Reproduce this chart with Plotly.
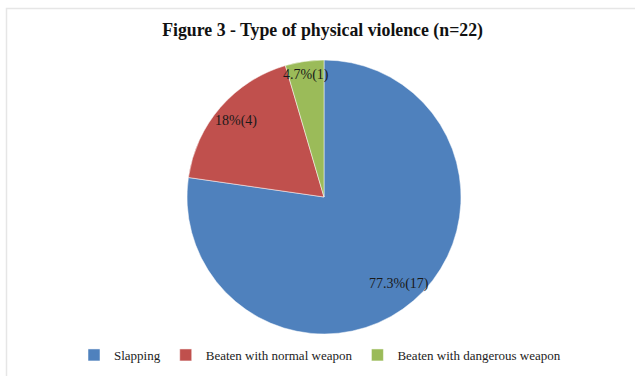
import math
import plotly.graph_objects as go

categories = ["Slapping", "Beaten with normal weapon", "Beaten with dangerous weapon"]
counts = [17, 4, 1]
label_texts = ["77.3%(17)", "18%(4)", "4.7%(1)"]
colors = ["#4F81BD", "#C0504D", "#9BBB59"]
label_radius = [0.84, 0.85, 0.9]

W, H = 635, 376
MT, MB = 60, 42
PH = H - MT - MB
PIE_L, PIE_R = 187, 461
CX = (PIE_L + PIE_R) / 2
R = (PIE_R - PIE_L) / 2

fig = go.Figure(go.Pie(
    labels=categories, values=counts, sort=False, direction="clockwise",
    rotation=0, marker=dict(colors=colors, line=dict(color="white", width=0.5)),
    textinfo="none", hoverinfo="label+value", showlegend=True,
    domain=dict(x=[PIE_L / W, PIE_R / W], y=[0, 1]),
))

def px_x(p):
    return p / W

def px_y(p):
    return 1 - (p - MT) / PH

# labels positioned from data angles
total = sum(counts)
cum = 0
annotations = []
for v, t, f in zip(counts, label_texts, label_radius):
    mid = (cum + v / 2) / total * 2 * math.pi
    cum += v
    annotations.append(dict(
        x=px_x(CX + f * R * math.sin(mid)), y=0.5 + f * 0.5 * math.cos(mid),
        xref="paper", yref="paper", text=t, showarrow=False,
        xanchor="center", yanchor="middle",
        font=dict(family="Liberation Serif", size=14, color="#1a1a1a"),
    ))

fig.update_layout(
    width=W, height=H,
    margin=dict(l=0, r=0, t=MT, b=MB, autoexpand=False),
    paper_bgcolor="white", plot_bgcolor="white",
    title=dict(text="<b>Figure 3 - Type of physical violence (n=22)</b>",
               x=0.508, xanchor="center", y=1 - 30 / H, yanchor="middle",
               font=dict(family="Liberation Serif", size=17.8, color="#111111")),
    legend=dict(orientation="h", x=320 / W, xanchor="center", y=px_y(355), yanchor="middle",
                font=dict(family="Liberation Serif", size=13, color="#222222"),
                traceorder="normal"),
    annotations=annotations,
    shapes=[dict(type="rect", xref="paper", yref="paper",
                 x0=px_x(6.5), x1=px_x(650), y0=px_y(390), y1=px_y(8.5),
                 line=dict(color="#E6E6E6", width=1.5), layer="below")],
)

fig.write_html("out.html")
